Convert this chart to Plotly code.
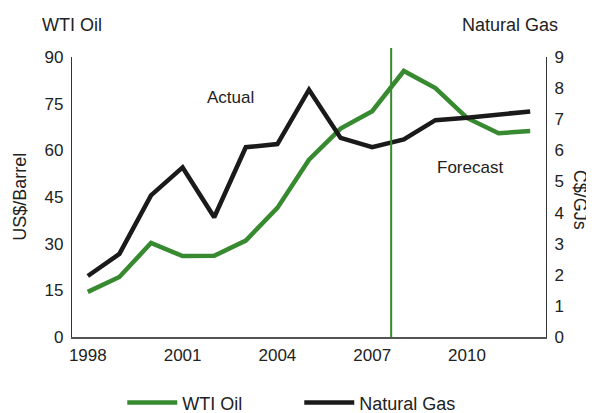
import plotly.graph_objects as go

# Data
years = list(range(1998, 2013))
wti_oil = [14.5, 19.3, 30.2, 26.0, 26.1, 31.0, 41.5, 57.0, 67.0, 72.6, 85.5, 80.0, 70.4, 65.5, 66.2]
natural_gas = [1.96, 2.67, 4.55, 5.45, 3.85, 6.1, 6.2, 7.95, 6.4, 6.1, 6.35, 6.97, 7.05, 7.15, 7.25]
forecast_start = 2007.6

GREEN = "#378a30"
BLACK = "#1a1a1a"
FONT = "Liberation Sans, Arial, sans-serif"

fig = go.Figure()
fig.add_trace(go.Scatter(x=years, y=wti_oil, mode="lines", name="WTI Oil",
                         line=dict(color=GREEN, width=4.5)))
fig.add_trace(go.Scatter(x=years, y=natural_gas, mode="lines", name="Natural Gas",
                         yaxis="y2", line=dict(color=BLACK, width=4.5)))

# forecast divider
fig.add_shape(type="line", xref="x", yref="paper", x0=forecast_start, x1=forecast_start,
              y0=0, y1=1.032, line=dict(color=GREEN, width=2))

# page body adds 8px, so the figure is a bit smaller than the window
fig.update_layout(
    width=586, height=405,
    margin=dict(l=64, r=48, t=49, b=76),
    plot_bgcolor="white", paper_bgcolor="white",
    font=dict(family=FONT, size=17, color="#222"),
    xaxis=dict(range=[1997.5, 2012.5], tickvals=[1998, 2001, 2004, 2007, 2010],
               showgrid=False, zeroline=False, showline=True, linecolor="#555",
               linewidth=1.5, ticks="", ticklabelstandoff=2),
    yaxis=dict(range=[0, 90], dtick=15, showgrid=False, zeroline=False,
               showline=True, linecolor="#333", linewidth=1.2, ticks="",
               ticklabelstandoff=4),
    yaxis2=dict(range=[0, 9], dtick=1, overlaying="y", side="right",
                showgrid=False, zeroline=False, showline=True, linecolor="#333",
                linewidth=1.2, ticks="", ticklabelstandoff=4),
    legend=dict(orientation="h", xref="container", yref="container",
                x=0.195, xanchor="left", y=0.025, yanchor="middle",
                font=dict(size=18), itemwidth=50, entrywidth=112),
    showlegend=True,
)

fig.add_annotation(text="WTI Oil", xref="paper", yref="paper", x=-0.068, y=1.114,
                   xanchor="left", yanchor="middle", showarrow=False, font=dict(size=18))
fig.add_annotation(text="Natural Gas", xref="paper", yref="paper", x=1.03, y=1.114,
                   xanchor="right", yanchor="middle", showarrow=False, font=dict(size=18))
fig.add_annotation(text="US$/Barrel", xref="paper", yref="paper", x=-0.11, y=0.5,
                   xanchor="center", yanchor="middle",
                   textangle=-90, showarrow=False, font=dict(size=18))
fig.add_annotation(text="C$/GJs", xref="paper", yref="paper", x=1.072, y=0.49,
                   xanchor="center", yanchor="middle",
                   textangle=90, showarrow=False, font=dict(size=18))
fig.add_annotation(text="Actual", x=2002.5, y=77, showarrow=False, font=dict(size=17))
fig.add_annotation(text="Forecast", x=2010.1, y=54.5, showarrow=False, font=dict(size=17))

fig.write_html("out.html")
